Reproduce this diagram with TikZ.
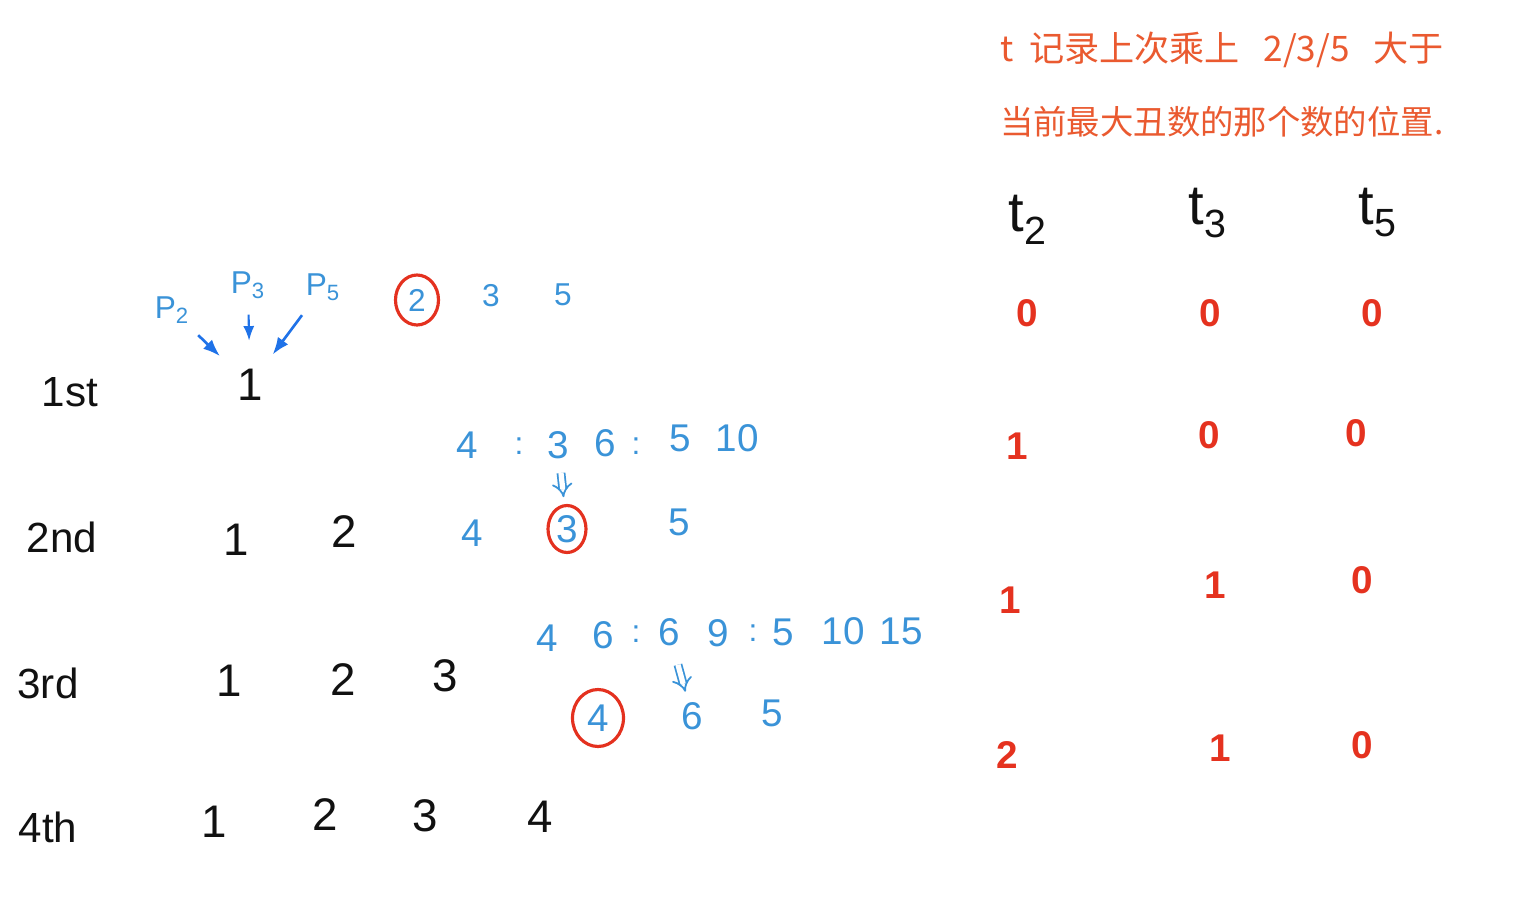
\documentclass[tikz,border=0pt]{standalone}
\usepackage{fontspec}
\setmainfont{Liberation Sans}
\newfontfamily\cjk{Noto Sans CJK SC}
\usetikzlibrary{arrows.meta,shapes.geometric}
\definecolor{Paper}{HTML}{FFFFFF}
\definecolor{Ink}{HTML}{111111}
\definecolor{PenBlue}{HTML}{3A93D8}
\definecolor{ArrowBlue}{HTML}{1F72E8}
\definecolor{RingRed}{HTML}{E4311F}
\definecolor{NoteRed}{HTML}{EA5A30}
\definecolor{IdxRed}{HTML}{E5321F}
\begin{document}
\begin{tikzpicture}[x=0.02cm,y=-0.02cm,>=Latex,every node/.style={inner sep=1pt},rowlab/.style={font=\fontsize{24}{26}\selectfont,text=Ink},num/.style={font=\fontsize{26}{28}\selectfont,text=Ink},cand/.style={font=\fontsize{22}{24}\selectfont,text=PenBlue},small/.style={font=\fontsize{18}{20}\selectfont,text=PenBlue},ring/.style={draw=RingRed,line width=1.8pt,ellipse,inner sep=0pt},idx/.style={font=\fontsize{22}{24}\selectfont\bfseries,text=IdxRed},thead/.style={font=\fontsize{32}{34}\selectfont,text=Ink},pick/.style={PenBlue,line width=1pt,double,double distance=3pt,-{Implies}}]
\fill[Paper](0,0)rectangle(1522,909);\useasboundingbox(0,0)rectangle(1522,909);
\node[anchor=west,text=NoteRed,font=\fontsize{20}{22}\selectfont\cjk](note1)at(998,50){t\ \ 记录上次乘上\ \ \ 2/3/5\ \ \ 大于};\node[anchor=west,text=NoteRed,font=\fontsize{19}{21}\selectfont\cjk](note2)at(998,122){当前最大丑数的那个数的位置.};
\node[rowlab](r1)at(70,392){1st};\node[rowlab](r2)at(62,537){2nd};\node[rowlab](r3)at(48,683){3rd};\node[rowlab](r4)at(48,827){4th};
\node[num](a1)at(250,385){1};\node[num](b1)at(236,540){1};\node[num](b2)at(344,532){2};\node[num](c1)at(229,681){1};\node[num](c2)at(343,680){2};\node[num](c3)at(445,676){3};
\node[num](d1)at(214,822){1};\node[num](d2)at(325,815){2};\node[num](d3)at(425,816){3};\node[num](d4)at(540,817){4};
\node[small](pt2)at(172,310){P\textsubscript{2}};\node[small](pt3)at(248,285){P\textsubscript{3}};\node[small](pt5)at(323,287){P\textsubscript{5}};
\draw[->,ArrowBlue,line width=1.5pt,shorten <=8pt,shorten >=12pt](pt2)--(a1);\draw[->,ArrowBlue,line width=1.2pt,shorten <=8pt,shorten >=15pt](pt3)--(a1);\draw[->,ArrowBlue,line width=1.5pt,shorten <=9pt,shorten >=9pt](pt5)--(a1);
\node[small,ring,minimum width=.86cm,minimum height=1cm](q2)at(417,300){2};\node[small](q3)at(491,296){3};\node[small](q5)at(563,295){5};
\node[cand](m4)at(467,445){4};\node[small](k1)at(519,446){:};\node[cand](m3)at(558,445){3};\node[cand](m6)at(605,443){6};\node[small](k2)at(636,446){:};\node[cand](m5)at(680,438){5};\node[cand](m10)at(737,438){10};
\node[cand](s4)at(472,533){4};\node[cand,ring,minimum width=.76cm,minimum height=.94cm](s3)at(567,529){3};\node[cand](s5)at(679,522){5};
\draw[pick,shorten <=7pt,shorten >=4pt](m3)--(s3);
\node[cand](u4)at(547,638){4};\node[cand](u6)at(603,635){6};\node[small](k3)at(636,634){:};\node[cand](w6)at(669,632){6};\node[cand](u9)at(718,633){9};\node[small](k4)at(753,633){:};\node[cand](u5)at(783,632){5};\node[cand](u10)at(843,631){10};\node[cand](u15)at(901,631){15};
\node[cand,ring,minimum width=1.02cm,minimum height=1.14cm](v4)at(598,718){4};\node[cand](v6)at(692,716){6};\node[cand](v5)at(772,713){5};
\draw[pick,shorten <=10pt,shorten >=5pt](w6)--(v6);
\node[thead](t2)at(1028,220){t\textsubscript{2}};\node[thead](t3)at(1208,213){t\textsubscript{3}};\node[thead](t5)at(1378,213){t\textsubscript{5}};
\node[idx](e21)at(1027,313){0};\node[idx](e31)at(1210,313){0};\node[idx](e51)at(1372,313){0};
\node[idx](e22)at(1017,446){1};\node[idx](e32)at(1209,435){0};\node[idx](e52)at(1356,433){0};
\node[idx](e23)at(1010,600){1};\node[idx](e33)at(1215,585){1};\node[idx](e53)at(1362,580){0};
\node[idx](e24)at(1007,755){2};\node[idx](e34)at(1220,748){1};\node[idx](e54)at(1362,745){0};
\end{tikzpicture}
\end{document}
